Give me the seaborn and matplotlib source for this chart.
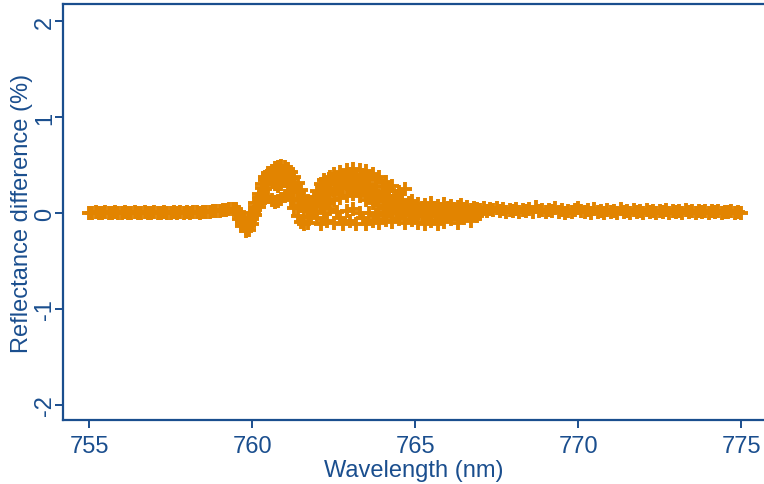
import numpy as np
import pandas as pd
import matplotlib
matplotlib.use("Agg")
import matplotlib.pyplot as plt
import seaborn as sns

# ---------------- data ----------------
wl_full = [
    755.0, 755.1, 755.2, 755.3, 755.4, 755.5, 755.6, 755.7, 755.8, 755.9,
    756.0, 756.1, 756.2, 756.3, 756.4, 756.5, 756.6, 756.7, 756.8, 756.9,
    757.0, 757.1, 757.2, 757.3, 757.4, 757.5, 757.6, 757.7, 757.8, 757.9,
    758.0, 758.1, 758.2, 758.3, 758.4, 758.5, 758.6, 758.7, 758.8, 758.9,
    759.0, 759.1, 759.2, 759.3, 759.4, 759.5, 759.6, 759.7, 759.8, 759.9,
    760.0, 760.1, 760.2, 760.3, 760.4, 760.5, 760.6, 760.7, 760.8, 760.9,
    761.0, 761.1, 761.2, 761.3, 761.4, 761.5, 761.6, 761.7, 761.8, 761.9,
    762.0, 762.1, 762.2, 762.3, 762.4, 762.5, 762.6, 762.7, 762.8, 762.9,
    763.0, 763.1, 763.2, 763.3, 763.4, 763.5, 763.6, 763.7, 763.8, 763.9,
    764.0, 764.1, 764.2, 764.3, 764.4, 764.5, 764.6, 764.7, 764.8, 764.9,
    765.0, 765.1, 765.2, 765.3, 765.4, 765.5, 765.6, 765.7, 765.8, 765.9,
    766.0, 766.1, 766.2, 766.3, 766.4, 766.5, 766.6, 766.7, 766.8, 766.9,
    767.0, 767.1, 767.2, 767.3, 767.4, 767.5, 767.6, 767.7, 767.8, 767.9,
    768.0, 768.1, 768.2, 768.3, 768.4, 768.5, 768.6, 768.7, 768.8, 768.9,
    769.0, 769.1, 769.2, 769.3, 769.4, 769.5, 769.6, 769.7, 769.8, 769.9,
    770.0, 770.1, 770.2, 770.3, 770.4, 770.5, 770.6, 770.7, 770.8, 770.9,
    771.0, 771.1, 771.2, 771.3, 771.4, 771.5, 771.6, 771.7, 771.8, 771.9,
    772.0, 772.1, 772.2, 772.3, 772.4, 772.5, 772.6, 772.7, 772.8, 772.9,
    773.0, 773.1, 773.2, 773.3, 773.4, 773.5, 773.6, 773.7, 773.8, 773.9,
    774.0, 774.1, 774.2, 774.3, 774.4, 774.5, 774.6, 774.7, 774.8, 774.9,
    775.0,
]

diff_a = [
    0.00, 0.00, 0.01, 0.00, 0.00, 0.01, 0.00, 0.00, 0.01, 0.00,
    0.00, 0.01, 0.00, 0.00, 0.01, 0.00, 0.00, 0.01, 0.00, 0.00,
    0.01, 0.00, 0.00, 0.01, 0.00, 0.00, 0.01, 0.00, 0.01, 0.00,
    0.01, 0.00, 0.01, 0.01, 0.00, 0.01, 0.01, 0.01, 0.02, 0.02,
    0.02, 0.03, 0.03, 0.04, 0.04, 0.03, 0.00, -0.08, -0.14, -0.12,
    -0.04, 0.06, 0.16, 0.26, 0.34, 0.40, 0.44, 0.47, 0.48, 0.49,
    0.48, 0.46, 0.43, 0.38, 0.31, 0.24, 0.17, 0.12, 0.11, 0.16,
    0.23, 0.30, 0.34, 0.30, 0.37, 0.41, 0.36, 0.43, 0.39, 0.45,
    0.41, 0.46, 0.39, 0.45, 0.40, 0.44, 0.36, 0.41, 0.34, 0.38,
    0.28, 0.32, 0.24, 0.28, 0.18, 0.22, 0.14, 0.25, 0.10, 0.12,
    0.06, 0.09, 0.05, 0.08, 0.04, 0.10, 0.05, 0.07, 0.04, 0.09,
    0.05, 0.07, 0.04, 0.06, 0.08, 0.04, 0.06, 0.03, 0.05, 0.04,
    0.03, 0.05, 0.02, 0.04, 0.03, 0.05, 0.02, 0.04, 0.01, 0.03,
    0.02, 0.04, 0.01, 0.03, 0.02, 0.04, 0.01, 0.06, 0.02, 0.03,
    0.01, 0.03, 0.02, 0.05, 0.01, 0.03, 0.00, 0.02, 0.01, 0.03,
    0.05, 0.02, 0.01, 0.03, 0.00, 0.04, 0.01, 0.02, 0.00, 0.03,
    0.01, 0.02, 0.00, 0.04, 0.01, 0.02, 0.00, 0.03, 0.01, 0.02,
    0.00, 0.03, 0.01, 0.02, 0.00, 0.02, 0.01, 0.03, 0.00, 0.02,
    0.01, 0.02, 0.00, 0.03, 0.01, 0.02, 0.00, 0.02, 0.01, 0.02,
    0.00, 0.02, 0.01, 0.02, 0.00, 0.01, 0.01, 0.02, 0.00, 0.01,
    0.00,
]

wl_active = [
    759.5, 759.6, 759.7, 759.8, 759.9,
    760.0, 760.1, 760.2, 760.3, 760.4, 760.5, 760.6, 760.7, 760.8, 760.9,
    761.0, 761.1, 761.2, 761.3, 761.4, 761.5, 761.6, 761.7, 761.8, 761.9,
    762.0, 762.1, 762.2, 762.3, 762.4, 762.5, 762.6, 762.7, 762.8, 762.9,
    763.0, 763.1, 763.2, 763.3, 763.4, 763.5, 763.6, 763.7, 763.8, 763.9,
    764.0, 764.1, 764.2, 764.3, 764.4, 764.5, 764.6, 764.7, 764.8, 764.9,
    765.0, 765.1, 765.2, 765.3, 765.4, 765.5, 765.6, 765.7, 765.8, 765.9,
    766.0, 766.1, 766.2, 766.3, 766.4, 766.5, 766.6, 766.7, 766.8, 766.9,
    767.0,
]

diff_b = [
    0.01, -0.06, -0.14, -0.19, -0.18,
    -0.11, -0.02, 0.06, 0.12, 0.16, 0.17, 0.14, 0.11, 0.12, 0.15,
    0.18, 0.20, 0.14, 0.05, -0.03, -0.09, -0.12, -0.10, -0.04, 0.02,
    -0.05, -0.11, 0.00, -0.08, 0.04, -0.10, 0.01, -0.05, -0.12, 0.02,
    -0.08, 0.04, -0.11, 0.00, -0.05, -0.12, 0.00, -0.08, -0.02, -0.10,
    0.00, -0.07, 0.02, -0.09, 0.00, -0.06, 0.02, -0.10, -0.02, -0.07,
    0.00, -0.10, -0.03, -0.12, -0.01, -0.08, -0.02, -0.11, -0.01, -0.09,
    -0.02, -0.06, -0.01, -0.10, -0.02, -0.05, -0.01, -0.08, -0.02, -0.03,
    -0.01,
]

diff_c = [
    0.02, -0.02, -0.11, -0.16, -0.14,
    -0.06, 0.03, 0.11, 0.19, 0.25, 0.30, 0.32, 0.30, 0.28, 0.30,
    0.33, 0.34, 0.30, 0.22, 0.14, 0.07, 0.02, 0.03, 0.07, 0.10,
    0.12, 0.08, 0.18, 0.10, 0.22, 0.14, 0.25, 0.16, 0.26, 0.18,
    0.28, 0.20, 0.27, 0.18, 0.24, 0.14, 0.20, 0.10, 0.16, 0.07,
    0.12, 0.05, 0.09, 0.03, 0.07, 0.02, 0.05, 0.00, 0.05, 0.01,
    0.04, 0.00, 0.03, 0.00, 0.03, 0.00, 0.02, 0.00, 0.02, 0.00,
    0.02, 0.00, 0.02, 0.00, 0.01, 0.00, 0.01, 0.00, 0.01, 0.00,
    0.00,
]

diff_d = [
    0.04, 0.01, -0.05, -0.10, -0.08,
    0.00, 0.10, 0.20, 0.30, 0.37, 0.42, 0.40, 0.38, 0.40, 0.42,
    0.42, 0.40, 0.36, 0.30, 0.22, 0.15, 0.08, 0.05, 0.03, 0.06,
    0.14, 0.20, 0.26, 0.20, 0.30, 0.24, 0.32, 0.28, 0.34, 0.30,
    0.36, 0.31, 0.35, 0.28, 0.33, 0.26, 0.30, 0.22, 0.27, 0.18,
    0.22, 0.14, 0.18, 0.10, 0.14, 0.07, 0.10, 0.04, 0.07, 0.02,
    0.05, 0.01, 0.04, 0.00, 0.03, 0.00, 0.03, 0.01, 0.03, 0.00,
    0.02, 0.01, 0.03, 0.00, 0.02, 0.00, 0.02, 0.00, 0.02, 0.00,
    0.01,
]

x_ticks = [755, 760, 765, 770, 775]
y_ticks = [-2, -1, 0, 1, 2]
x_label = "Wavelength (nm)"
y_label = "Reflectance difference (%)"

# ---------------- tidy table ----------------
frames = [pd.DataFrame({"wavelength": wl_full, "diff": diff_a, "run": "a"})]
for name, vals in (("b", diff_b), ("c", diff_c), ("d", diff_d)):
    frames.append(pd.DataFrame({"wavelength": wl_active, "diff": vals, "run": name}))
df = pd.concat(frames, ignore_index=True)

# ---------------- style ----------------
sns.set_theme(style="white")
plt.rcParams["font.family"] = ["Liberation Sans", "DejaVu Sans"]
plt.rcParams["axes.unicode_minus"] = False

NAVY = "#1a4e8e"
ORANGE = "#E28400"

fig = plt.figure(figsize=(7.64, 4.85), dpi=100)
ax = fig.add_axes([63 / 764, 1 - 421 / 485, 1 - 63 / 764, (421 - 5) / 485])

sns.scatterplot(data=df, x="wavelength", y="diff", marker="+", color=ORANGE,
                s=95, linewidth=2.8, legend=False, ax=ax, zorder=3)

ax.set_xlim(754.2, 775.7)
ax.set_ylim(-2.16, 2.18)
ax.set_xticks(x_ticks)
ax.set_yticks(y_ticks)
ax.set_xticklabels([str(t) for t in x_ticks])
ax.set_yticklabels([str(t) for t in y_ticks])

for side in ("left", "bottom", "top"):
    ax.spines[side].set_color(NAVY)
    ax.spines[side].set_linewidth(1.6)
ax.spines["right"].set_visible(False)

ax.tick_params(axis="both", direction="out", length=6, width=1.4, color=NAVY,
               labelcolor=NAVY, labelsize=17)
ax.tick_params(axis="x", bottom=True, top=False, pad=5)
ax.tick_params(axis="y", left=True, right=False, pad=-1)
plt.setp(ax.get_yticklabels(), rotation=90, va="center")

ax.set_xlabel(x_label, color=NAVY, fontsize=17, labelpad=1)
ax.set_ylabel(y_label, color=NAVY, fontsize=17, labelpad=1)

fig.savefig("out.png", dpi=100)
